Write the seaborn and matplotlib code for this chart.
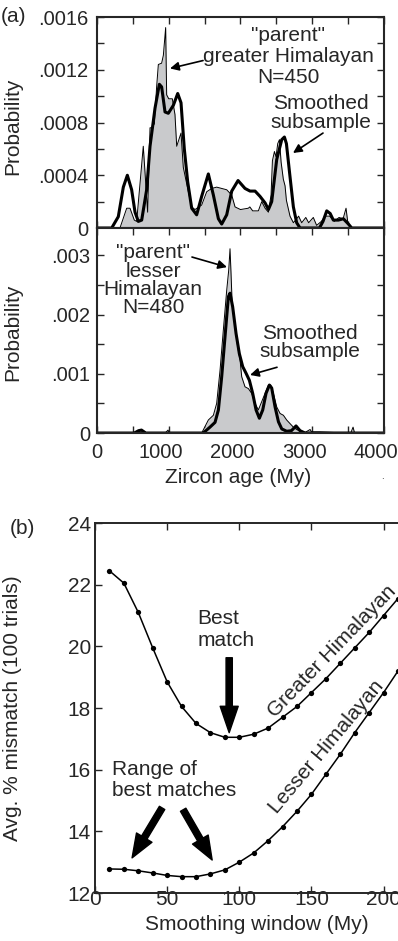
import numpy as np
import pandas as pd
import matplotlib
matplotlib.use('Agg')
import matplotlib.pyplot as plt
from matplotlib.ticker import MultipleLocator, FuncFormatter
from matplotlib.transforms import ScaledTranslation
import seaborn as sns

# (a) top: greater Himalayan, parent (thin outline, gray fill) and smoothed subsample (thick)
gh_parent_age = [0, 320, 414, 460, 520, 553, 600, 645, 706, 739, 770, 800, 831, 855, 901, 925,
                 957, 971, 1000, 1050, 1087, 1111, 1171, 1203, 1273, 1320, 1366, 1459, 1529,
                 1599, 1668, 1738, 1808, 1878, 1924, 2000, 2109, 2130, 2170, 2249, 2296, 2343,
                 2389, 2426, 2445, 2473, 2495, 2519, 2543, 2566, 2597, 2621, 2640, 2690, 2737,
                 2783, 2810, 2853, 2910, 2950, 3015, 3061, 3127, 3178, 3243, 3308, 3373, 3430,
                 3471, 3494, 3527, 3560, 4000]
gh_parent_prob = [0, 0, 1.5, 1.5, 0.6, 0.5, 3.4, 6.2, 1.2, 7.6, 7.6, 7.9, 10.7, 12.4, 12.5, 13.1,
                  15.2, 10.1, 9.8, 9.8, 8.6, 6.2, 7.2, 4.6, 2.75, 1.6, 1.4, 1.74, 2.75,
                  3.0, 3.1, 3.0, 2.9, 2.5, 1.6, 1.4, 1.5, 1.6, 1.3, 1.3, 2.0, 1.5,
                  1.2, 2.5, 5.1, 5.8, 5.4, 6.4, 6.7, 5.0, 3.7, 3.2, 2.1, 0.9, 0.4,
                  0.7, 0.9, 0.4, 0.8, 0.4, 0.8, 0.2, 0.5, 0.9, 0.9, 0.5, 0.8, 0.7,
                  1.5, 0.5, 0.1, 0, 0]
gh_smooth_age = [0, 205, 297, 367, 423, 483, 530, 576, 623, 692, 739, 809, 869, 901, 948, 994,
                 1064, 1125, 1171, 1217, 1264, 1320, 1389, 1459, 1552, 1622, 1692, 1738, 1808,
                 1878, 1966, 2063, 2133, 2203, 2272, 2343, 2389, 2435, 2505, 2575, 2612, 2640,
                 2690, 2737, 2783, 2830, 3100, 3150, 3202, 3250, 3294, 3364, 3434, 3504, 3550, 4000]
gh_smooth_prob = [0, 0, 0.86, 3.1, 4.0, 2.9, 1.2, 0.5, 0.6, 2.9, 6.2, 9.1, 10.9, 10.7, 8.8, 8.7,
                  9.3, 10.2, 9.5, 6.0, 3.5, 1.5, 1.0, 2.4, 4.1, 2.5, 0.7, 0.3, 1.0,
                  2.8, 3.6, 3.0, 2.8, 2.8, 2.4, 1.9, 1.4, 2.0, 5.2, 6.7, 6.9, 6.4,
                  3.9, 1.6, 0.4, 0, 0, 0.5, 1.3, 1.1, 0.6, 0.6, 0.7, 0.3, 0, 0]

# (a) bottom: lesser Himalayan
lh_parent_age = [0, 500, 560, 600, 640, 700, 950, 990, 1010, 1400, 1459, 1552, 1622, 1668, 1715,
                 1761, 1808, 1836, 1854, 1868, 1882, 1924, 1956, 1994, 2017, 2063, 2110, 2156,
                 2203, 2249, 2296, 2342, 2389, 2421, 2458, 2505, 2552, 2598, 2644, 2690, 2737,
                 2783, 2830, 2900, 2970, 2990, 3100, 3300, 3540, 3569, 3590, 4000]
lh_parent_prob = [0, 0, 0.03, 0.04, 0.03, 0, 0, 0.05, 0, 0, 0, 0.22, 0.3, 0.5, 1.06,
                  1.74, 2.41, 2.75, 3.11, 2.7, 2.24, 1.79, 1.5, 1.23, 0.95, 0.78, 0.75, 0.67,
                  0.5, 0.39, 0.53, 0.67, 0.81, 0.81, 0.67, 0.44, 0.33, 0.3, 0.22, 0.16, 0.1,
                  0.06, 0.03, 0.01, 0.06, 0.02, 0.02, 0.01, 0.01, 0.1, 0, 0]
lh_smooth_age = [0, 520, 580, 620, 680, 1400, 1480, 1575, 1645, 1692, 1738, 1784, 1831, 1854,
                 1891, 1938, 1984, 2031, 2077, 2124, 2170, 2217, 2263, 2310, 2356, 2403, 2435,
                 2482, 2529, 2575, 2644, 2710, 2774, 2830, 2900, 4000]
lh_smooth_prob = [0, 0, 0.04, 0.05, 0, 0, 0, 0.1, 0.18, 0.39, 0.95, 1.62, 2.3, 2.36,
                  2.13, 1.68, 1.34, 1.12, 1.01, 0.89, 0.67, 0.39, 0.25, 0.39, 0.67, 0.81, 0.76,
                  0.44, 0.19, 0.07, 0.03, 0.04, 0.12, 0.04, 0, 0]

# (b) mismatch vs smoothing window
window = [10, 20, 30, 40, 50, 60, 70, 80, 90, 100, 110, 120, 130, 140, 150, 160, 170, 180, 190, 200, 210]
greater_mis = [22.45, 22.05, 21.1, 19.95, 18.85, 18.05, 17.5, 17.2, 17.05, 17.05, 17.15, 17.35,
               17.7, 18.05, 18.5, 18.95, 19.45, 19.95, 20.45, 21.0, 21.55]
lesser_mis = [12.78, 12.77, 12.72, 12.65, 12.57, 12.53, 12.53, 12.62, 12.75, 13.0, 13.3, 13.7,
              14.15, 14.65, 15.2, 15.85, 16.5, 17.2, 17.85, 18.5, 19.2]

sns.set_style('ticks')
plt.rcParams['font.family'] = ['Liberation Sans', 'DejaVu Sans']
plt.rcParams['font.size'] = 15

GRAY = '#c9cacc'
FS = 15

fig = plt.figure(figsize=(3.98, 9.41), dpi=100)
ax1 = fig.add_axes([0.2437, 0.7577, 0.7211, 0.2242])
ax2 = fig.add_axes([0.2437, 0.5398, 0.7211, 0.2179])
axb = fig.add_axes([0.2387, 0.0510, 0.7613, 0.3932])


def dist_panel(ax, p_age, p_prob, s_age, s_prob, scale):
    p_prob = np.array(p_prob) * scale
    s_prob = np.array(s_prob) * scale
    ax.fill_between(p_age, 0, p_prob, color=GRAY, lw=0)
    sns.lineplot(x=p_age, y=p_prob, ax=ax, color='k', lw=0.7, sort=False)
    sns.lineplot(x=s_age, y=s_prob, ax=ax, color='k', lw=2.2, sort=False)
    ax.set_xlim(0, 4000)
    ax.set_xticks([0, 1000, 2000, 3000, 4000])
    ax.xaxis.set_minor_locator(MultipleLocator(500))
    ax.tick_params(which='both', direction='in', top=True, right=True, labelsize=14.5)
    ax.tick_params(which='both', length=5, width=1)
    for s in ax.spines.values():
        s.set_linewidth(1.5)


def arrow_a(ax, head, tail):
    ax.annotate('', xy=head, xytext=tail,
                arrowprops=dict(arrowstyle='-|>', color='k', lw=1.2, mutation_scale=13,
                                shrinkA=0, shrinkB=0))


dist_panel(ax1, gh_parent_age, gh_parent_prob, gh_smooth_age, gh_smooth_prob, 1e-4)
ax1.set_ylim(0, 0.0016)
ax1.yaxis.set_major_locator(MultipleLocator(0.0004))
ax1.yaxis.set_minor_locator(MultipleLocator(0.0002))
ax1.yaxis.set_major_formatter(FuncFormatter(lambda v, p: '0' if abs(v) < 1e-12 else f'{v:.4f}'.lstrip('0')))
ax1.tick_params(axis='x', labelbottom=False)
ax1.tick_params(axis='y', pad=6)
ax1.set_ylabel('Probability', fontsize=FS)
ax1.yaxis.set_label_coords(-0.261, 0.483)

ax1.text(2662, 0.00130, '"parent"\ngreater Himalayan\nN=450', ha='center', va='center',
         fontsize=FS, linespacing=1.15)
arrow_a(ax1, (1018, 0.00121), (1478, 0.00127))
ax1.text(3123, 0.000872, 'Smoothed\nsubsample', ha='center', va='center', fontsize=FS, linespacing=1.0)
arrow_a(ax1, (2732, 0.000569), (3150, 0.00072))

dist_panel(ax2, lh_parent_age, lh_parent_prob, lh_smooth_age, lh_smooth_prob, 1e-3)
ax2.set_ylim(0, 0.00346)
ax2.yaxis.set_major_locator(MultipleLocator(0.001))
ax2.yaxis.set_minor_locator(MultipleLocator(0.0005))
ax2.yaxis.set_major_formatter(FuncFormatter(lambda v, p: '0' if abs(v) < 1e-12 else f'{v:.3f}'.lstrip('0')))
ax2.xaxis.set_major_formatter(FuncFormatter(lambda v, p: f'{int(v)}'))
ax2.tick_params(axis='y', pad=5)
ax2.tick_params(axis='x', pad=7)
# the tick numbers sit a little left of their ticks in the original
shift = ScaledTranslation(-8 / 100, 0, fig.dpi_scale_trans)
for t in ax2.xaxis.get_major_ticks()[1:]:
    t.label1.set_transform(t.label1.get_transform() + shift)
ax2.set_ylabel('Probability', fontsize=FS)
ax2.yaxis.set_label_coords(-0.261, 0.49)
ax2.set_xlabel('Zircon age (My)', fontsize=FS, va='center')
ax2.xaxis.set_label_coords(0.491, -0.215)

ax2.text(781, 0.00258, '"parent"\nlesser\nHimalayan\nN=480', ha='center', va='center',
         fontsize=FS, linespacing=0.95)
arrow_a(ax2, (1812, 0.0028), (1324, 0.00297))
ax2.text(2969, 0.001525, 'Smoothed\nsubsample', ha='center', va='center', fontsize=FS, linespacing=0.95)
arrow_a(ax2, (2133, 0.00098), (2509, 0.00111))

fig.text(0.002, 1 - 17 / 941, '(a)', ha='left', va='center', fontsize=FS)
fig.text(382 / 398, 1 - 476 / 941, '.', ha='center', va='center', fontsize=7)

# (b)
sns.lineplot(x=window, y=greater_mis, ax=axb, color='k', lw=1.1, marker='o',
             markersize=3.8, markeredgewidth=0)
sns.lineplot(x=window, y=lesser_mis, ax=axb, color='k', lw=1.1, marker='o',
             markersize=3.8, markeredgewidth=0)
axb.set_xlim(0, 210)
axb.set_ylim(12, 24)
axb.set_xticks([0, 50, 100, 150, 200])
axb.set_yticks(list(range(12, 25, 2)))
axb.spines['right'].set_visible(False)
for s in ['left', 'top', 'bottom']:
    axb.spines[s].set_linewidth(1.4)
axb.tick_params(direction='in', top=True, right=False, length=5, width=1, labelsize=FS)
axb.tick_params(axis='x', pad=-2)
axb.tick_params(axis='y', pad=3)
axb.set_xlabel('Smoothing window (My)', fontsize=FS, va='center')
axb.xaxis.set_label_coords(0.535, -0.086)
axb.set_ylabel('Avg. % mismatch (100 trials)', fontsize=FS)
axb.yaxis.set_label_coords(-0.241, 0.5)

axb.text(70.8, 20.55, 'Best\nmatch', ha='left', va='center', fontsize=FS, linespacing=1.2)
axb.annotate('', xy=(93, 17.2), xytext=(93, 19.63),
             arrowprops=dict(width=4.5, headwidth=13, headlength=19, color='k', shrink=0))
axb.text(11.8, 15.67, 'Range of\nbest matches', ha='left', va='center', fontsize=FS, linespacing=1.15)
axb.annotate('', xy=(25.7, 13.14), xytext=(46.5, 14.76),
             arrowprops=dict(width=4.5, headwidth=13, headlength=17, color='k', shrink=0))
axb.annotate('', xy=(81.2, 13.07), xytext=(61.1, 14.7),
             arrowprops=dict(width=4.5, headwidth=13, headlength=17, color='k', shrink=0))

axb.text(164.3, 19.85, 'Greater Himalayan', rotation=46, rotation_mode='anchor',
         ha='center', va='center', fontsize=FS)
axb.text(160.1, 16.75, 'Lesser Himalayan', rotation=50, rotation_mode='anchor',
         ha='center', va='center', fontsize=FS)

fig.text(22 / 398, 1 - 528 / 941, '(b)', ha='center', va='center', fontsize=FS)

fig.savefig('out.png', dpi=100)
